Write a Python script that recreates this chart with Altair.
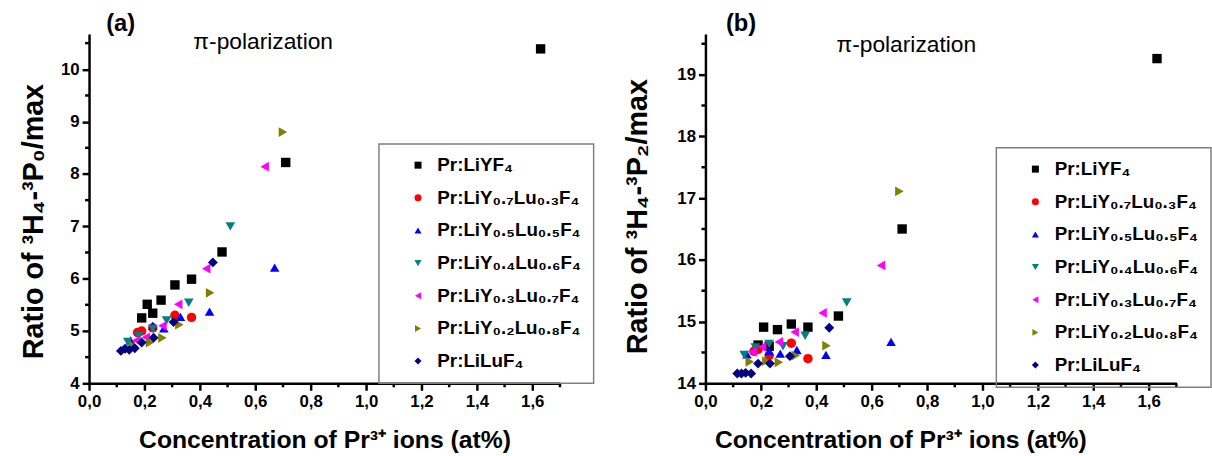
import altair as alt
import pandas as pd

FONT = "Liberation Sans"

series_names = [
    "Pr:LiYF₄",
    "Pr:LiY₀.₇Lu₀.₃F₄",
    "Pr:LiY₀.₅Lu₀.₅F₄",
    "Pr:LiY₀.₄Lu₀.₆F₄",
    "Pr:LiY₀.₃Lu₀.₇F₄",
    "Pr:LiY₀.₂Lu₀.₈F₄",
    "Pr:LiLuF₄",
]
series_colors = ["#000000", "#ff0000", "#0000ff", "#008080", "#ff00ff", "#808000", "#000080"]
series_shapes = ["square", "circle", "triangle-up", "triangle-down",
                 "triangle-left", "triangle-right", "diamond"]
series_sizes = [90, 100, 150, 150, 150, 150, 130]

# Pr3+ concentration (at%) per crystal
conc_liyf4 = [0.19, 0.21, 0.23, 0.26, 0.31, 0.37, 0.48, 0.71, 1.63]
conc_y07 = [0.175, 0.19, 0.23, 0.31, 0.37]
conc_y05 = [0.15, 0.23, 0.27, 0.33, 0.435, 0.67]
conc_y04 = [0.14, 0.18, 0.23, 0.28, 0.36, 0.51]
conc_y03 = [0.17, 0.205, 0.265, 0.322, 0.423, 0.634]
conc_y02 = [0.16, 0.22, 0.265, 0.326, 0.437, 0.70]
conc_lilu = [0.115, 0.13, 0.145, 0.165, 0.19, 0.233, 0.305, 0.447]

# (a) ratio 3H4-3P0 / max
p0_liyf4 = [5.25, 5.51, 5.34, 5.59, 5.88, 5.99, 6.51, 8.22, 10.39]
p0_y07 = [4.97, 5.0, 5.06, 5.3, 5.26]
p0_y05 = [4.82, 5.1, 5.05, 5.27, 5.37, 6.21]
p0_y04 = [4.79, 4.9, 5.04, 5.2, 5.54, 7.0]
p0_y03 = [4.82, 4.88, 5.1, 5.51, 6.19, 8.14]
p0_y02 = [4.72, 4.78, 4.87, 5.12, 5.73, 8.8]
p0_lilu = [4.62, 4.66, 4.64, 4.67, 4.78, 4.87, 5.17, 6.31]

# (b) ratio 3H4-3P2 / max
p2_liyf4 = [14.62, 14.91, 14.6, 14.87, 14.96, 14.91, 15.09, 16.5, 19.26]
p2_y07 = [14.52, 14.55, 14.45, 14.65, 14.40]
p2_y05 = [14.47, 14.52, 14.48, 14.54, 14.46, 14.67]
p2_y04 = [14.46, 14.58, 14.64, 14.6, 14.77, 15.31]
p2_y03 = [14.51, 14.59, 14.67, 14.83, 15.14, 15.91]
p2_y02 = [14.35, 14.36, 14.34, 14.45, 14.61, 17.11]
p2_lilu = [14.16, 14.16, 14.17, 14.16, 14.32, 14.32, 14.44, 14.9]

x_ticks = [0.0, 0.2, 0.4, 0.6, 0.8, 1.0, 1.2, 1.4, 1.6]
x_minor = [0.1, 0.3, 0.5, 0.7, 0.9, 1.1, 1.3, 1.5, 1.7]
ya_ticks = [4, 5, 6, 7, 8, 9, 10]
ya_minor = [4.5, 5.5, 6.5, 7.5, 8.5, 9.5, 10.5]
yb_ticks = [14, 15, 16, 17, 18, 19]
yb_minor = [14.5, 15.5, 16.5, 17.5, 18.5, 19.5]

concs = [conc_liyf4, conc_y07, conc_y05, conc_y04, conc_y03, conc_y02, conc_lilu]
p0s = [p0_liyf4, p0_y07, p0_y05, p0_y04, p0_y03, p0_y02, p0_lilu]
p2s = [p2_liyf4, p2_y07, p2_y05, p2_y04, p2_y03, p2_y02, p2_lilu]


def make_df(values):
    rows = []
    for name, cs, vs in zip(series_names, concs, values):
        for c, v in zip(cs, vs):
            rows.append({"series": name, "conc": c, "ratio": v})
    return pd.DataFrame(rows)


df_a = make_df(p0s)
df_b = make_df(p2s)

X_TITLE = "Concentration of Pr³⁺ ions (at%)"
LABEL_EXPR = "replace(format(datum.value, '.1f'), '.', ',')"


def panel(df, width, height, ydomain, yticks, yminor, ytitle, ytitle_x, ytitle_y,
          xtitle_x, leg_x, leg_y, tag, tag_x, pol_x, pol_y):
    x_enc = alt.X("conc:Q",
                  scale=alt.Scale(domain=[0, 1.7], nice=False, zero=False),
                  axis=alt.Axis(values=x_ticks, labelExpr=LABEL_EXPR,
                                title=X_TITLE, titleFontSize=25,
                                titleX=xtitle_x, titleY=65,
                                titleBaseline="alphabetic", labelPadding=3))
    y_enc = alt.Y("ratio:Q",
                  scale=alt.Scale(domain=ydomain, nice=False, zero=False),
                  axis=alt.Axis(values=yticks, format="d", title=ytitle,
                                titleFontSize=29, titleX=ytitle_x, titleY=ytitle_y,
                                titleBaseline="alphabetic", titleAngle=270,
                                labelPadding=3))
    legend = alt.Legend(title=None, orient="none", legendX=leg_x, legendY=leg_y,
                        direction="vertical", labelFont=FONT, labelFontSize=19,
                        labelFontWeight="bold", labelColor="black",
                        symbolSize=50, symbolStrokeWidth=0, symbolOpacity=1,
                        symbolOffset=18, labelOffset=10, padding=12,
                        rowPadding=13, strokeColor="#7f7f7f", labelLimit=400)
    pts = alt.Chart(df).mark_point(filled=True, opacity=1).encode(
        x=x_enc,
        y=y_enc,
        color=alt.Color("series:N", scale=alt.Scale(domain=series_names, range=series_colors),
                        legend=legend),
        shape=alt.Shape("series:N", scale=alt.Scale(domain=series_names, range=series_shapes),
                        legend=legend),
        size=alt.Size("series:N", scale=alt.Scale(domain=series_names, range=series_sizes),
                      legend=None),
    )
    ymin = alt.Chart(pd.DataFrame({"ratio": yminor})).mark_rule(
        color="black", strokeWidth=2.5).encode(
        y=y_enc, x=alt.value(-4), x2=alt.value(0))
    xmin = alt.Chart(pd.DataFrame({"conc": x_minor})).mark_rule(
        color="black", strokeWidth=2.5).encode(
        x=x_enc, y=alt.value(height), y2=alt.value(height + 4))
    tag_t = alt.Chart(pd.DataFrame({"t": [tag]})).mark_text(
        font=FONT, fontSize=24, fontWeight="bold", color="black",
        align="center", baseline="middle").encode(
        x=alt.value(tag_x), y=alt.value(-10), text="t:N")
    pol_t = alt.Chart(pd.DataFrame({"t": ["π-polarization"]})).mark_text(
        font=FONT, fontSize=23, color="black",
        align="center", baseline="alphabetic").encode(
        x=alt.value(pol_x), y=alt.value(pol_y), text="t:N")
    return alt.layer(pts, ymin, xmin, tag_t, pol_t).properties(width=width, height=height)


panel_a = panel(df_a, 476, 353, [4, 10.673], ya_ticks, ya_minor,
                "Ratio of ³H₄-³P₀/max", -47, 189, 238, 293, 111, "(a)", 32, 176, 15)
panel_b = panel(df_b, 476, 353, [14, 19.657], yb_ticks, yb_minor,
                "Ratio of ³H₄-³P₂/max", -60, 184, 197, 294, 115, "(b)", 36, 203, 18)

chart = alt.hconcat(panel_a, panel_b, spacing=147, bounds="flush").resolve_scale(
    color="independent", shape="independent"
).properties(
    padding={"left": 19, "top": 10, "right": 0, "bottom": 0}
).configure_view(stroke=None).configure_axis(
    domainColor="black", domainWidth=2.5, tickColor="black", tickWidth=2.5,
    tickSize=7, labelFont=FONT, labelFontSize=17, labelFontWeight="bold",
    labelColor="black", titleFont=FONT, titleFontWeight="bold",
    titleColor="black", grid=False, labelFlush=False, labelOverlap=False
).configure_legend(strokeWidth=1.5)

chart.save("out.html", embed_options={"renderer": "svg", "actions": False})
